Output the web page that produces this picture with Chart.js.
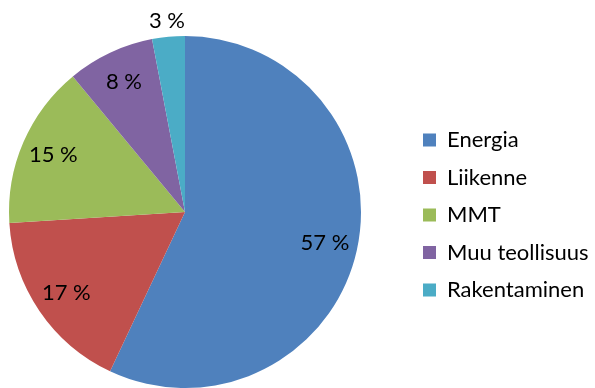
<!DOCTYPE html>
<html>
<head>
<meta charset="utf-8">
<script src="https://cdn.jsdelivr.net/npm/chart.js@4.4.0/dist/chart.umd.min.js"></script>
<style>
  body { margin: 0; background: #fff; }
  #wrap { width: 595px; height: 388px; }
</style>
</head>
<body>
<div id="wrap"><canvas id="grafico"></canvas></div>
<script>
// Päästöt sektoreittain (%)
const sektorit = ["Energia", "Liikenne", "MMT", "Muu teollisuus", "Rakentaminen"];
const osuudet = [57, 17, 15, 8, 3];
const varit = ["#4F81BD", "#C0504D", "#9BBB59", "#8064A2", "#4BACC6"];

const fontti = "Lato, 'Open Sans', sans-serif";
const kirjainKoko = 22;
const laatikko = 13;
const rivivali = 15.5;

// Prosenttiluvut siivujen päälle, pienet siivut saavat luvun kehän ulkopuolelle
const prosenttiTekstit = {
  id: "prosenttiTekstit",
  afterDatasetsDraw(chart) {
    const ctx = chart.ctx;
    const kaaret = chart.getDatasetMeta(0).data;
    ctx.save();
    ctx.font = kirjainKoko + "px " + fontti;
    ctx.fillStyle = "#000";
    ctx.textAlign = "center";
    ctx.textBaseline = "middle";
    kaaret.forEach((kaari, i) => {
      const p = kaari.getProps(["x", "y", "startAngle", "endAngle", "outerRadius"], true);
      const keski = (p.startAngle + p.endAngle) / 2;
      const r = osuudet[i] < 5 ? p.outerRadius * 1.09 : p.outerRadius * 0.815;
      ctx.fillText(osuudet[i] + " %", p.x + Math.cos(keski) * r, p.y + Math.sin(keski) * r);
    });
    ctx.restore();
  }
};

// Selite siirretään irti ympyrästä (Chart.js asettaa sen muuten kiinni piirtoalueeseen)
const selitteenSiirto = {
  id: "selitteenSiirto",
  afterLayout(chart) {
    const selite = chart.legend;
    const dx = (423 - rivivali) - selite.left;
    selite.left += dx;
    selite.right += dx;
    selite.top += 3;
    selite.bottom += 3;
  }
};

// Selitteen leveys, jotta piirtoalue päättyy x=370 kohdalle
const mitta = document.createElement("canvas").getContext("2d");
mitta.font = kirjainKoko + "px " + fontti;
const leveinTeksti = Math.max(...sektorit.map(s => mitta.measureText(s).width));
const selitteenLeveys = rivivali + laatikko + kirjainKoko / 2 + leveinTeksti + 10;

Chart.defaults.font.family = fontti;
Chart.defaults.font.size = kirjainKoko;
Chart.defaults.color = "#000";

new Chart(document.getElementById("grafico"), {
  type: "pie",
  data: {
    labels: sektorit,
    datasets: [{
      data: osuudet,
      backgroundColor: varit,
      borderWidth: 0
    }]
  },
  options: {
    responsive: true,
    maintainAspectRatio: false,
    animation: false,
    layout: {
      padding: {
        top: 36,
        bottom: 0,
        left: 0,
        right: 595 - 370 - selitteenLeveys
      }
    },
    plugins: {
      legend: {
        position: "right",
        labels: {
          boxWidth: laatikko,
          boxHeight: laatikko,
          padding: rivivali,
          font: { size: kirjainKoko }
        }
      },
      tooltip: { enabled: false }
    }
  },
  plugins: [prosenttiTekstit, selitteenSiirto]
});
</script>
</body>
</html>
